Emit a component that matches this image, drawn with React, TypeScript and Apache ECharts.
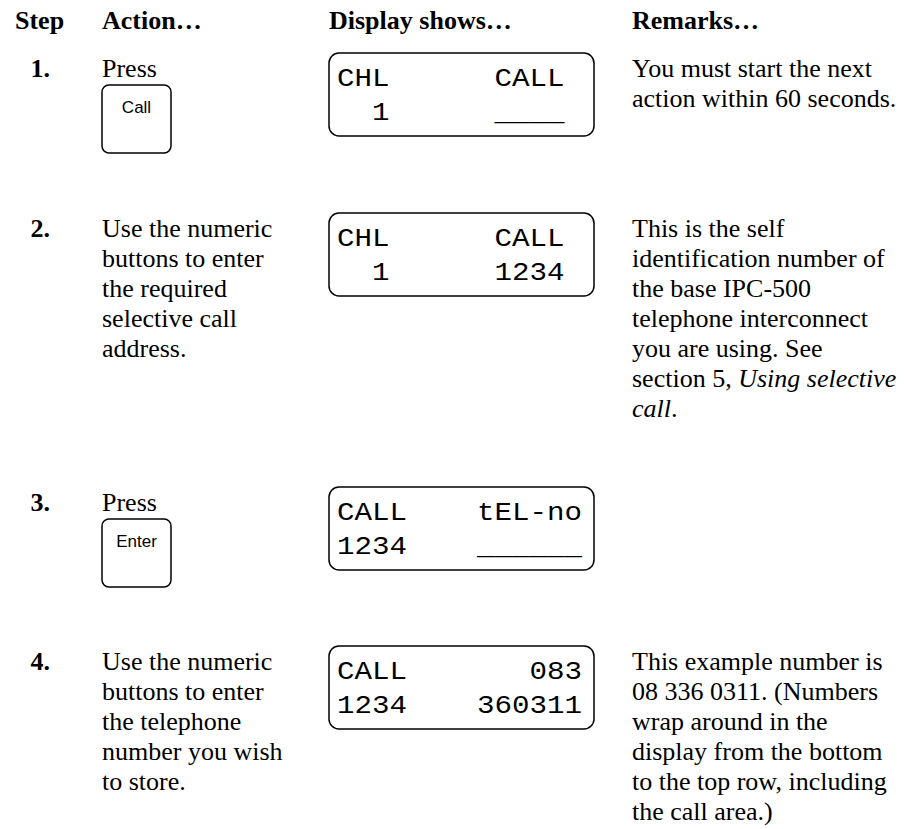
import React, { useEffect, useRef } from "react";
import * as echarts from "echarts";

// ---- content ----
const headers = ["Step", "Action…", "Display shows…", "Remarks…"];
const stepNumbers = ["1.", "2.", "3.", "4."];
const actionLines: string[][] = [
  ["Press"],
  ["Use the numeric", "buttons to enter", "the required", "selective call", "address."],
  ["Press"],
  ["Use the numeric", "buttons to enter", "the telephone", "number you wish", "to store."],
];
const buttonLabels = ["Call", "", "Enter", ""];
// LCD character grid rows (monospace, 14 columns)
const displayTopRows = ["CHL      CALL", "CHL      CALL", "CALL    tEL-no", "CALL       083"];
const displayBottomRows = ["  1      ____", "  1      1234", "1234    ______", "1234    360311"];
const remarkLines: string[][] = [
  ["You must start the next", "action within 60 seconds."],
  [
    "This is the self",
    "identification number of",
    "the base IPC-500",
    "telephone interconnect",
    "you are using. See",
    "section 5, {i|Using selective}",
    "{i|call}.",
  ],
  [],
  [
    "This example number is",
    "08 336 0311. (Numbers",
    "wrap around in the",
    "display from the bottom",
    "to the top row, including",
    "the call area.)",
  ],
];

// ---- layout ----
const W = 904;
const H = 829;
const SERIF = "'Liberation Serif', 'Times New Roman', Times, serif";
const SANS = "'Liberation Sans', Arial, sans-serif";
const MONO = "'Liberation Mono', 'DejaVu Sans Mono', monospace";
const FS = 26;
const HEADER_BASE = 29;
const ROW_BASE = [77, 237, 511, 670];
const LINE_GAP = 30;
const MID = 8.8; // baseline -> central offset for serif 26px
const COL_STEP_RIGHT = 50;
const COL_ACTION = 102;
const COL_DISPLAY = 329;
const COL_REMARK = 632;
const HEADER_X = [15, COL_ACTION, COL_DISPLAY, COL_REMARK];
const LCD_PITCH = 17.5;
const LCD_FS = 26;
const LCD_SCALE = LCD_PITCH / (LCD_FS * 0.6);

function buildGraphics() {
  const els: any[] = [];
  els.push({ type: "rect", shape: { x: 0, y: 0, width: W, height: H }, style: { fill: "#fff" }, silent: true });

  headers.forEach((h, i) => {
    els.push({
      type: "text",
      x: HEADER_X[i],
      y: HEADER_BASE - MID,
      style: {
        text: h,
        fill: "#000",
        font: `bold ${FS}px ${SERIF}`,
        align: "left",
        verticalAlign: "middle",
      },
    });
  });

  stepNumbers.forEach((num, r) => {
    const base = ROW_BASE[r];
    els.push({
      type: "text",
      x: COL_STEP_RIGHT,
      y: base - MID,
      style: { text: num, fill: "#000", font: `bold ${FS}px ${SERIF}`, align: "right", verticalAlign: "middle" },
    });

    actionLines[r].forEach((line, k) => {
      els.push({
        type: "text",
        x: COL_ACTION,
        y: base + k * LINE_GAP - MID,
        style: { text: line, fill: "#000", font: `${FS}px ${SERIF}`, align: "left", verticalAlign: "middle" },
      });
    });

    if (buttonLabels[r]) {
      const bx = COL_ACTION;
      const by = base + 8;
      els.push({
        type: "rect",
        shape: { x: bx, y: by, width: 69, height: 68, r: 7 },
        style: { fill: "none", stroke: "#000", lineWidth: 1.5 },
      });
      els.push({
        type: "text",
        x: bx + 34.5,
        y: by + 22,
        style: { text: buttonLabels[r], fill: "#000", font: `17px ${SANS}`, align: "center", verticalAlign: "middle" },
      });
    }

    // display box
    const boxY = base - 24;
    els.push({
      type: "rect",
      shape: { x: COL_DISPLAY, y: boxY, width: 265, height: 83, r: 10 },
      style: { fill: "none", stroke: "#000", lineWidth: 1.5 },
    });
    [displayTopRows[r], displayBottomRows[r]].forEach((row, li) => {
      const cy = boxY + (li === 0 ? 27.5 : 61) - 1.5;
      const re = /\S+/g;
      let m: RegExpExecArray | null;
      while ((m = re.exec(row)) !== null) {
        els.push({
          type: "text",
          x: COL_DISPLAY + 8 + m.index * LCD_PITCH,
          y: cy,
          scaleX: LCD_SCALE,
          style: { text: m[0], fill: "#000", font: `${LCD_FS}px ${MONO}`, align: "left", verticalAlign: "middle" },
        });
      }
    });

    remarkLines[r].forEach((line, k) => {
      els.push({
        type: "text",
        x: COL_REMARK,
        y: base + k * LINE_GAP - MID,
        style: {
          text: line,
          fill: "#000",
          font: `${FS}px ${SERIF}`,
          align: "left",
          verticalAlign: "middle",
          rich: {
            i: { fontStyle: "italic", fontSize: FS, fontFamily: SERIF, fill: "#000" },
          },
        },
      });
    });
  });
  return els;
}

export default function App() {
  const ref = useRef<HTMLDivElement>(null);
  useEffect(() => {
    if (!ref.current) return;
    const chart = echarts.init(ref.current, null, { renderer: "svg" });
    chart.setOption({
      animation: false,
      backgroundColor: "#fff",
      graphic: { elements: buildGraphics() },
    });
    return () => chart.dispose();
  }, []);
  return (
    <div
      ref={ref}
      style={{ position: "fixed", left: 0, top: 0, width: W, height: H, background: "#fff" }}
    />
  );
}
